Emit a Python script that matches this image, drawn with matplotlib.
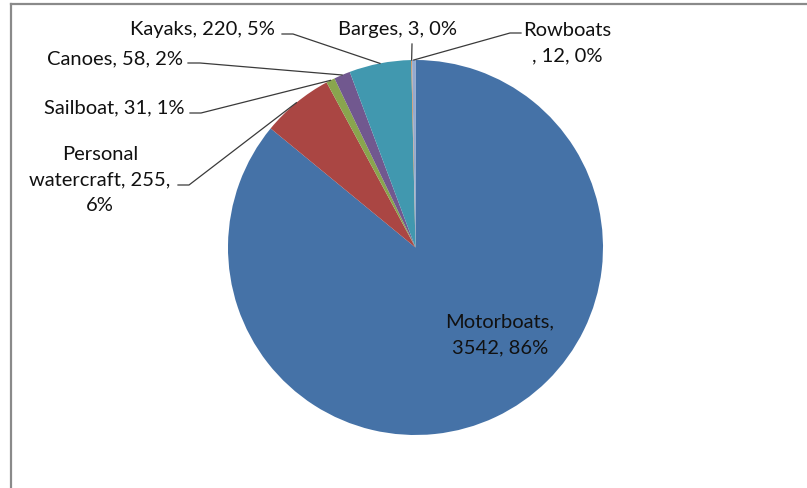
import numpy as np
import matplotlib
matplotlib.use("Agg")
import matplotlib.pyplot as plt
from matplotlib.lines import Line2D

categories = ["Motorboats", "Personal watercraft", "Sailboat", "Canoes",
              "Kayaks", "Barges", "Rowboats"]
counts = [3542, 255, 31, 58, 220, 3, 12]
percent_labels = [86, 6, 1, 2, 5, 0, 0]
colors = ["#4572A7", "#AA4643", "#89A54E", "#71588F", "#4198AF", "#DB843D", "#93A9CF"]

W, H = 807, 489
center = (415.5, 248.5)
radius = 187.5

# label text layout: (x, y, ha, template) in pixel coords from the top-left
label_pos = {
    "Motorboats": (500, 335, "center", "{n},\n{v}, {p}%"),
    "Personal watercraft": (100, 180, "center", "Personal\nwatercraft, {v},\n{p}%"),
    "Sailboat": (185, 108, "right", "{n}, {v}, {p}%"),
    "Canoes": (183, 59, "right", "{n}, {v}, {p}%"),
    "Kayaks": (275, 30, "right", "{n}, {v}, {p}%"),
    "Barges": (397, 30, "center", "{n}, {v}, {p}%"),
    "Rowboats": (567, 43, "center", "{n}\n, {v}, {p}%"),
}
# where each leader line leaves its label (start, knee)
leader_start = {
    "Personal watercraft": [(178, 186), (189, 186)],
    "Sailboat": [(190, 114), (201, 114)],
    "Canoes": [(188, 64), (200, 64)],
    "Kayaks": [(282, 35), (293, 35)],
    "Barges": [(412, 45), (412, 45)],
    "Rowboats": [(521, 34), (510, 34)],
}

plt.rcParams["font.family"] = ["Lato", "DejaVu Sans"]

fig = plt.figure(figsize=(W / 100, H / 100), dpi=100)
ax = fig.add_axes([0, 0, 1, 1])

# y axis is flipped, so clockwise on screen is counter-clockwise in data
wedges, _ = ax.pie(counts, colors=colors, startangle=-90, counterclock=True,
                   center=center, radius=radius, frame=True,
                   wedgeprops=dict(linewidth=0))
ax.set_xlim(0, W)
ax.set_ylim(H, 0)
ax.set_aspect("equal")
ax.axis("off")

for name, val, pct, w in zip(categories, counts, percent_labels, wedges):
    x, y, ha, tmpl = label_pos[name]
    ax.text(x, y, tmpl.format(n=name, v=val, p=pct), ha=ha, va="center",
            fontsize=14.5, color="#111111", linespacing=1.6)
    if name in leader_start:
        mid = np.deg2rad((w.theta1 + w.theta2) / 2)
        ex = center[0] + radius * np.cos(mid)
        ey = center[1] + radius * np.sin(mid)
        pts = leader_start[name] + [(ex, ey)]
        ax.plot([p[0] for p in pts], [p[1] for p in pts], color="#3a3a3a", lw=0.9)

# chart area border (runs off the right and bottom edges)
fig.add_artist(Line2D([11 / W, 11 / W], [0, 1 - 5 / H], transform=fig.transFigure,
                      color="#8a8a8a", lw=1.6))
fig.add_artist(Line2D([11 / W, 1], [1 - 5 / H, 1 - 5 / H], transform=fig.transFigure,
                      color="#8a8a8a", lw=1.6))

fig.savefig("out.png", dpi=100)
